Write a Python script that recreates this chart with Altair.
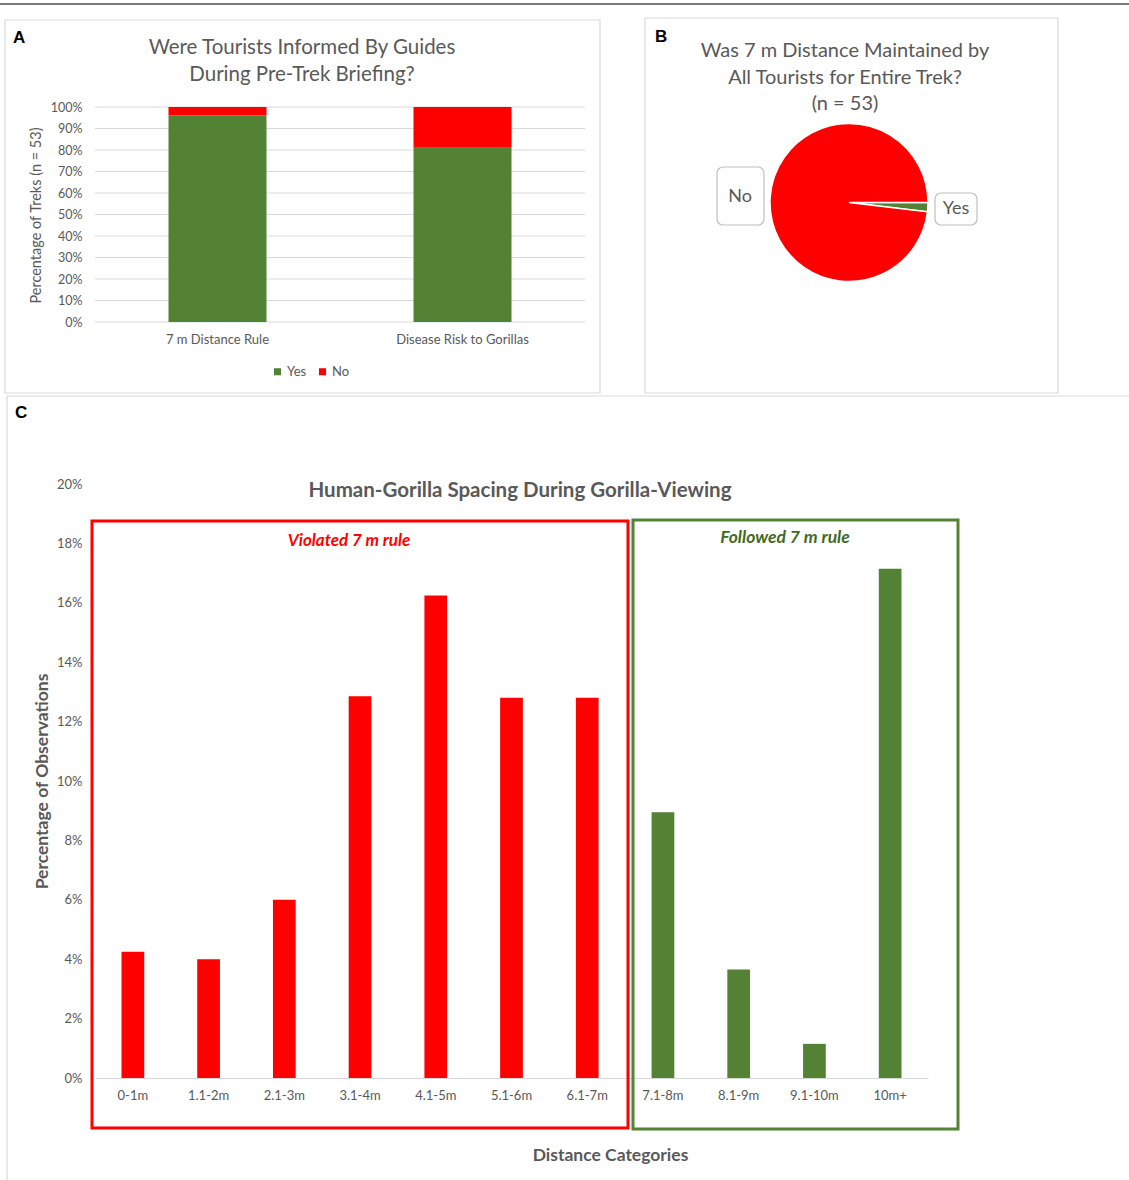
import math
import altair as alt
import pandas as pd

# ---------------- data ----------------
# Panel A: share of treks where guides briefed tourists on each topic
topics = ["7 m Distance Rule", "Disease Risk to Gorillas"]
informed_yes = [0.962, 0.811]
informed_no = [0.038, 0.189]
answers = ["Yes", "No"]
a_ticks = [i / 10 for i in range(11)]

# Panel B: was the 7 m distance kept for the whole trek (n = 53)
pie_answers = ["Yes", "No"]
pie_counts = [1, 52]

# Panel C: human-gorilla spacing during viewing
distance_bins = ["0-1m", "1.1-2m", "2.1-3m", "3.1-4m", "4.1-5m", "5.1-6m",
                 "6.1-7m", "7.1-8m", "8.1-9m", "9.1-10m", "10m+"]
obs_share = [0.0425, 0.040, 0.060, 0.1285, 0.1625, 0.128, 0.128,
             0.0895, 0.0365, 0.0115, 0.1715]
rule_group = ["Violated"] * 7 + ["Followed"] * 4
c_ticks = [i / 50 for i in range(11)]

# ---------------- styling ----------------
GREEN = "#548235"
RED = "#FF0000"
GREY = "#595959"
LIGHT = "#D9D9D9"
FONT = "Lato"

W, H = 1129, 1180


def text(t, x, y, size, color=GREY, weight="normal", style="normal",
         font=FONT, align="center", baseline="alphabetic"):
    return alt.Chart(pd.DataFrame({"t": [t]})).mark_text(
        align=align, baseline=baseline, font=font, fontSize=size,
        fontWeight=weight, fontStyle=style, color=color,
    ).encode(text="t:N", x=alt.value(x), y=alt.value(y))


def frame(x1, y1, x2, y2, color, width, fill="transparent", radius=0):
    return alt.Chart(pd.DataFrame({"k": [0]})).mark_rect(
        fill=fill, stroke=color, strokeWidth=width, cornerRadius=radius,
    ).encode(x=alt.value(x1), x2=alt.value(x2), y=alt.value(y1), y2=alt.value(y2))


def hline(x1, x2, y, color, width):
    return alt.Chart(pd.DataFrame({"k": [0]})).mark_rule(
        color=color, strokeWidth=width,
    ).encode(x=alt.value(x1), x2=alt.value(x2), y=alt.value(y))


def vline(x, y1, y2, color, width):
    return alt.Chart(pd.DataFrame({"k": [0]})).mark_rule(
        color=color, strokeWidth=width,
    ).encode(x=alt.value(x), y=alt.value(y1), y2=alt.value(y2))


# ---------------- panel A: stacked bars ----------------
df_a = pd.DataFrame({
    "topic": topics * 2,
    "answer": ["Yes"] * len(topics) + ["No"] * len(topics),
    "share": informed_yes + informed_no,
    "rank": [0] * len(topics) + [1] * len(topics),
})

A_LEFT, A_RIGHT = 95, 585

a_y = alt.Y(
    "share:Q",
    scale=alt.Scale(domain=[0, 1], range=[322, 107], nice=False),
    axis=alt.Axis(
        orient="left", offset=-A_LEFT, values=a_ticks, format=".0%",
        grid=False, domain=False, ticks=False, tickSize=0, labelPadding=13,
        labelFont=FONT, labelFontSize=12.5, labelColor=GREY,
        title="Percentage of Treks (n = 53)", titleFont=FONT, titleFontSize=14.5,
        titleFontWeight="normal", titleColor=GREY, titleX=36 - A_LEFT, titleY=215,
        titleBaseline="middle",
    ),
)

grid_a = alt.Chart(pd.DataFrame({"share": a_ticks})).mark_rule(
    color=LIGHT, strokeWidth=1
).encode(y=a_y, x=alt.value(A_LEFT), x2=alt.value(A_RIGHT))

bars_a = alt.Chart(df_a).mark_bar().encode(
    x=alt.X(
        "topic:N", sort=topics,
        scale=alt.Scale(range=[A_LEFT, A_RIGHT], paddingInner=0.6, paddingOuter=0.3),
        axis=alt.Axis(
            orient="bottom", offset=322 - H, domain=False, ticks=False, tickSize=0,
            labelPadding=11, labelAngle=0, labelFont=FONT, labelFontSize=13,
            labelColor=GREY, title=None,
        ),
    ),
    y=a_y,
    color=alt.Color(
        "answer:N",
        scale=alt.Scale(domain=answers, range=[GREEN, RED]),
        legend=alt.Legend(
            orient="none", legendX=271, legendY=365, direction="horizontal",
            title=None, symbolType="square", symbolSize=50, symbolStrokeWidth=0,
            labelFont=FONT, labelFontSize=13, labelColor=GREY, labelOffset=3,
            columnPadding=9, padding=0,
        ),
    ),
    order=alt.Order("rank:Q", sort="ascending"),
)

panel_a = alt.layer(grid_a, bars_a)

# ---------------- panel B: pie ----------------
df_b = pd.DataFrame({"answer": pie_answers, "count": pie_counts, "rank": [0, 1]})

pie = alt.Chart(df_b).mark_arc(outerRadius=79, stroke="white", strokeWidth=1.5).encode(
    theta=alt.Theta("count:Q", stack=True,
                    scale=alt.Scale(range=[math.pi / 2, math.pi / 2 + 2 * math.pi])),
    color=alt.Color("answer:N", scale=alt.Scale(domain=answers, range=[GREEN, RED]),
                    legend=None),
    order=alt.Order("rank:Q", sort="ascending"),
    x=alt.value(849),
    y=alt.value(202.5),
)

# ---------------- panel C: spacing bars ----------------
df_c = pd.DataFrame({"bin": distance_bins, "share": obs_share, "group": rule_group})

bars_c = alt.Chart(df_c).mark_bar().encode(
    x=alt.X(
        "bin:N", sort=distance_bins,
        scale=alt.Scale(range=[95, 928], paddingInner=0.7, paddingOuter=0.35),
        axis=alt.Axis(
            orient="bottom", offset=1078 - H, domain=True, domainColor=LIGHT,
            domainWidth=1, ticks=False, tickSize=0, labelPadding=11, labelAngle=0,
            labelFont=FONT, labelFontSize=13, labelColor=GREY,
            title="Distance Categories", titleFont=FONT, titleFontSize=17.5,
            titleFontWeight="bold", titleColor=GREY, titleX=610, titleY=77,
            titleBaseline="middle",
        ),
    ),
    y=alt.Y(
        "share:Q",
        scale=alt.Scale(domain=[0, 0.2], range=[1078, 484], nice=False),
        axis=alt.Axis(
            orient="left", offset=-95, values=c_ticks, format=".0%",
            grid=False, domain=False, ticks=False, tickSize=0, labelPadding=13,
            labelFont=FONT, labelFontSize=13, labelColor=GREY,
            title="Percentage of Observations", titleFont=FONT, titleFontSize=17.5,
            titleFontWeight="bold", titleColor=GREY, titleX=-53, titleY=781,
            titleBaseline="middle",
        ),
    ),
    color=alt.Color("group:N",
                    scale=alt.Scale(domain=["Violated", "Followed"], range=[RED, GREEN]),
                    legend=None),
)

# ---------------- frames, labels and titles ----------------
decor = [
    hline(0, W, 4, "#4D4D4D", 1.5),
    frame(5, 20, 600, 393, LIGHT, 1.2),
    frame(645, 18, 1058, 393, LIGHT, 1.2),
    hline(7, W, 396, LIGHT, 1.2),
    vline(7, 396, H, LIGHT, 1.2),
    frame(92, 521, 628, 1128, RED, 3),
    frame(633, 520, 958, 1129, GREEN, 3),
]

labels = [
    text("A", 13, 43, 17, color="black", weight="bold", font="Liberation Sans", align="left"),
    text("Were Tourists Informed By Guides", 302, 54, 20.5),
    text("During Pre-Trek Briefing?", 302, 81, 20.5),
    text("B", 655, 42, 17, color="black", weight="bold", font="Liberation Sans", align="left"),
    text("Was 7 m Distance Maintained by", 845, 57, 20),
    text("All Tourists for Entire Trek?", 845, 84, 20),
    text("(n = 53)", 845, 110, 20),
    frame(717, 167, 764, 225, "#BFBFBF", 1.2, fill="white", radius=6),
    frame(935, 193, 977, 225, "#BFBFBF", 1.2, fill="white", radius=6),
    text("No", 740, 197, 18, baseline="middle"),
    text("Yes", 956, 209, 18, baseline="middle"),
    text("C", 15, 418, 17, color="black", weight="bold", font="Liberation Sans", align="left"),
    text("Human-Gorilla Spacing During Gorilla-Viewing", 520, 497, 20.5, weight="bold"),
    text("Violated 7 m rule", 349, 546, 17, color=RED, weight="bold", style="italic"),
    text("Followed 7 m rule", 785, 543, 17.5, color="#3F6B22", weight="bold", style="italic"),
]

chart = alt.layer(
    *decor, panel_a, pie, bars_c, *labels
).resolve_scale(
    x="independent", y="independent", color="independent", theta="independent"
).properties(
    width=W, height=H, padding=0, background="white",
    autosize=alt.AutoSizeParams(type="none"),
).configure_view(stroke=None)

chart.save("out.html", embed_options={"renderer": "svg", "actions": False})
